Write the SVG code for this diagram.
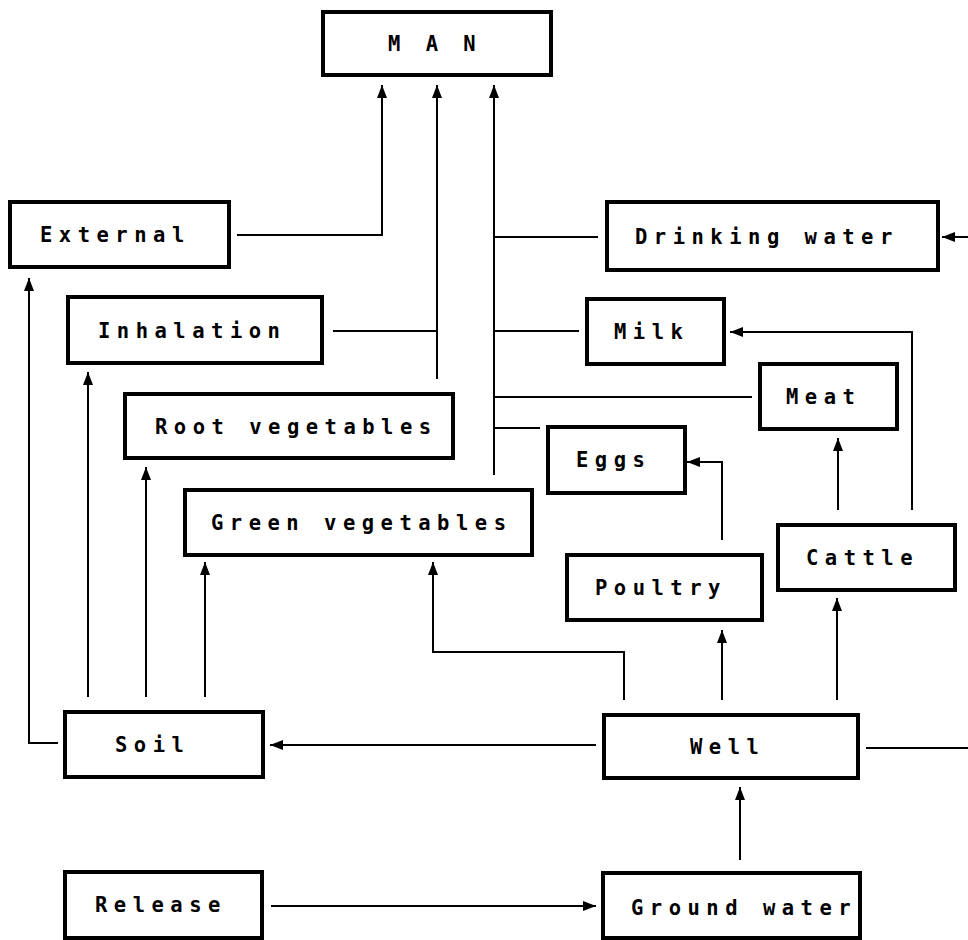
<svg xmlns="http://www.w3.org/2000/svg" width="968" height="940" viewBox="0 0 968 940">
<style>
.box{fill:#fff;stroke:#000;stroke-width:4}
.t{font-family:"DejaVu Sans Mono","Liberation Mono",monospace;font-size:20.5px;font-weight:bold;letter-spacing:6.5px;fill:#000}
.c{fill:none;stroke:#000;stroke-width:2}
.a{marker-end:url(#ah)}
</style>
<defs>
<marker id="ah" viewBox="0 0 13 10" refX="13" refY="5" markerWidth="13" markerHeight="10" orient="auto" markerUnits="userSpaceOnUse">
<path d="M0,0 L13,5 L0,10 Z" fill="#000"/>
</marker>
</defs>
<rect width="968" height="940" fill="#fff"/>
<g id="connectors">
<path class="c a" d="M237,235 H382 V85"/>
<path class="c" d="M333,331 H437"/>
<path class="c a" d="M437,379 V85"/>
<path class="c a" d="M494,475 V85"/>
<path class="c" d="M598,237 H494"/>
<path class="c" d="M579,331 H494"/>
<path class="c" d="M752,397 H494"/>
<path class="c" d="M540,428 H494"/>
<path class="c a" d="M968,237 H942"/>
<path class="c a" d="M912,510 V332 H730"/>
<path class="c a" d="M838,510 V438"/>
<path class="c a" d="M722,540 V462 H687"/>
<path class="c a" d="M722,700 V630"/>
<path class="c a" d="M837,700 V598"/>
<path class="c a" d="M624,700 V652 H433 V562"/>
<path class="c a" d="M596,745 H270"/>
<path class="c a" d="M58,743 H29 V278"/>
<path class="c a" d="M88,697 V372"/>
<path class="c a" d="M146,697 V467"/>
<path class="c a" d="M205,697 V562"/>
<path class="c a" d="M271,906 H596"/>
<path class="c a" d="M740,860 V787"/>
<path class="c" d="M866,748 H968"/>
</g>
<g id="man"><rect class="box" x="323" y="12" width="228" height="63"/><text class="t" x="388" y="51">M A N</text></g>
<g id="external"><rect class="box" x="10" y="202" width="219" height="65"/><text class="t" x="40" y="242">External</text></g>
<g id="drinking-water"><rect class="box" x="607" y="202" width="331" height="68"/><text class="t" x="635" y="244">Drinking water</text></g>
<g id="inhalation"><rect class="box" x="68" y="297" width="254" height="66"/><text class="t" x="98" y="338">Inhalation</text></g>
<g id="milk"><rect class="box" x="587" y="299" width="137" height="65"/><text class="t" x="614" y="339">Milk</text></g>
<g id="meat"><rect class="box" x="760" y="364" width="137" height="65"/><text class="t" x="786" y="404">Meat</text></g>
<g id="root-vegetables"><rect class="box" x="125" y="394" width="328" height="64"/><text class="t" x="155" y="434">Root vegetables</text></g>
<g id="eggs"><rect class="box" x="548" y="427" width="137" height="66"/><text class="t" x="576" y="467">Eggs</text></g>
<g id="green-vegetables"><rect class="box" x="185" y="490" width="347" height="65"/><text class="t" x="211" y="530">Green vegetables</text></g>
<g id="poultry"><rect class="box" x="567" y="555" width="195" height="65"/><text class="t" x="595" y="595">Poultry</text></g>
<g id="cattle"><rect class="box" x="778" y="525" width="177" height="65"/><text class="t" x="806" y="565">Cattle</text></g>
<g id="well"><rect class="box" x="604" y="715" width="254" height="63"/><text class="t" x="690" y="754">Well</text></g>
<g id="soil"><rect class="box" x="65" y="712" width="198" height="65"/><text class="t" x="115" y="752">Soil</text></g>
<g id="release"><rect class="box" x="65" y="872" width="197" height="66"/><text class="t" x="95" y="912">Release</text></g>
<g id="ground-water"><rect class="box" x="603" y="873" width="257" height="65"/><text class="t" x="631" y="915">Ground water</text></g>
</svg>
